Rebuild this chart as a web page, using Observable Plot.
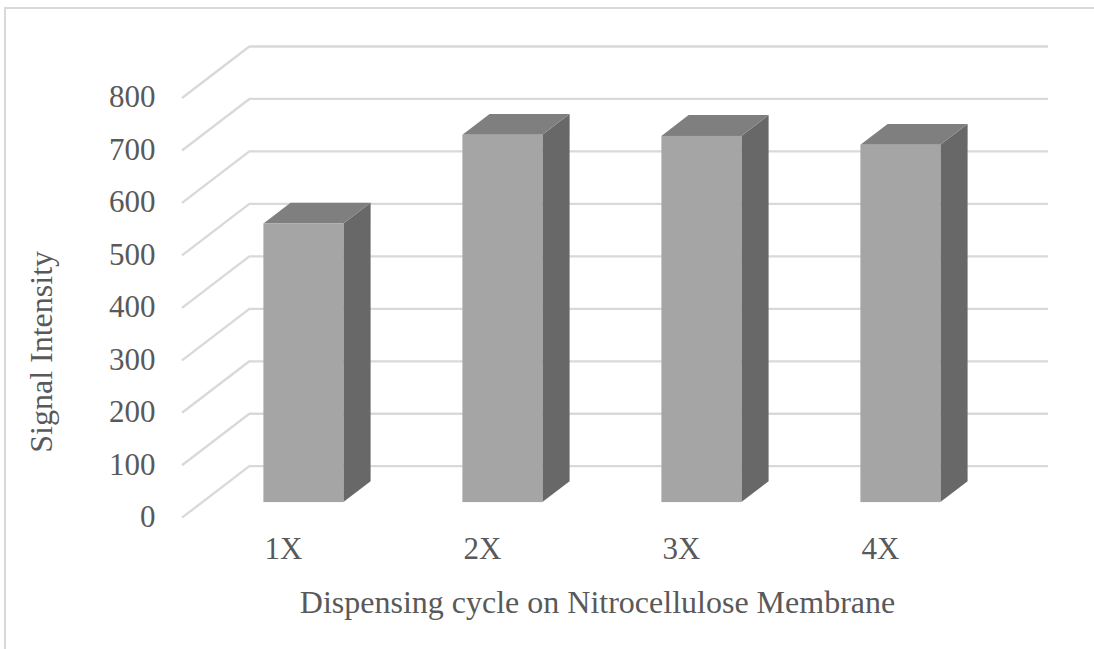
<!DOCTYPE html>
<html>
<head>
<meta charset="utf-8">
<script src="https://cdn.jsdelivr.net/npm/d3@7"></script>
<script src="https://cdn.jsdelivr.net/npm/@observablehq/plot@0.6"></script>
<style>
  html, body { margin: 0; padding: 0; background: #fff; }
  #wrap { position: relative; width: 1094px; height: 649px; overflow: hidden; }
  #border { position: absolute; left: 4px; top: 7px; width: 1200px; height: 800px;
            border: 2px solid #d9d9d9; box-sizing: border-box; pointer-events: none; }
</style>
</head>
<body>
<div id="wrap"><div id="border"></div></div>
<script>
// Signal intensity per dispensing cycle
const categories = ["1X", "2X", "3X", "4X"];
const signal = [531, 700, 698, 681];
const yTicks = [0, 100, 200, 300, 400, 500, 600, 700, 800];
const yTitle = "Signal Intensity";
const xTitle = "Dispensing cycle on Nitrocellulose Membrane";

const data = categories.map((c, i) => ({cycle: c, signal: signal[i]}));

// oblique projection of the floor depth (pixels), and where bars sit in it
const depth = [-68, 52];
const frontAt = 0.7, backAt = 0.3;
const F = [depth[0] * frontAt, depth[1] * frontAt];
const B = [depth[0] * backAt, depth[1] * backAt];

const grid = "#d9d9d9";
const textColor = "#595959";
const serif = "Liberation Serif";
const faceFront = "#a5a5a5", faceSide = "#686868", faceTop = "#7f7f7f";

function bandwidthOf(x) {
  return typeof x.bandwidth === "function" ? x.bandwidth() : x.bandwidth;
}

// side walls of the back grid: diagonals from the back wall to the front edge
function wallDiagonals(index, scales, values, dims) {
  const {y} = scales;
  const g = d3.create("svg:g");
  const x0 = dims.marginLeft;
  for (const t of yTicks) {
    g.append("line")
      .attr("x1", x0).attr("y1", y(t))
      .attr("x2", x0 + depth[0]).attr("y2", y(t) + depth[1])
      .attr("stroke", grid).attr("stroke-width", 2.3);
  }
  return g.node();
}

// right side and top faces of each 3-D bar
function barDepthFaces(index, scales) {
  const {x, y} = scales;
  const bw = bandwidthOf(x);
  const g = d3.create("svg:g");
  const pts = (arr) => arr.map(p => p.join(",")).join(" ");
  for (const d of data) {
    const xl = x(d.cycle), xr = xl + bw, y0 = y(0), yv = y(d.signal);
    g.append("polygon")
      .attr("points", pts([[xr + F[0], y0 + F[1]], [xr + F[0], yv + F[1]], [xr + B[0], yv + B[1]], [xr + B[0], y0 + B[1]]]))
      .attr("fill", faceSide);
    g.append("polygon")
      .attr("points", pts([[xl + F[0], yv + F[1]], [xr + F[0], yv + F[1]], [xr + B[0], yv + B[1]], [xl + B[0], yv + B[1]]]))
      .attr("fill", faceTop);
  }
  return g.node();
}

// rotated title of the value axis, centred on the front-plane axis
function valueAxisTitle(index, scales, values, dims) {
  const {y} = scales;
  const cx = dims.marginLeft - 208;
  const cy = (y(0) + y(800)) / 2 + 96;
  const g = d3.create("svg:g");
  g.append("text")
    .attr("transform", `translate(${cx},${cy}) rotate(-90)`)
    .attr("text-anchor", "middle")
    .attr("dy", "0.32em")
    .attr("font-family", serif)
    .attr("font-size", 32)
    .attr("fill", textColor)
    .text(yTitle);
  return g.node();
}

const chart = Plot.plot({
  width: 1094,
  height: 649,
  marginLeft: 250,
  marginRight: 46,
  marginTop: 46,
  marginBottom: 183.3,
  style: {background: "transparent", fontFamily: serif, fontSize: "31px", color: textColor},
  x: {domain: categories, axis: null, paddingInner: 0.6, paddingOuter: 0.3},
  y: {domain: [0, 800], axis: null},
  marks: [
    Plot.ruleY(yTicks, {stroke: grid, strokeWidth: 2.3}),
    wallDiagonals,
    barDepthFaces,
    Plot.barY(data, {x: "cycle", y: "signal", fill: faceFront, dx: F[0], dy: F[1]}),
    // value axis labels on the front plane
    Plot.text(yTicks, {y: d => d, text: d => String(d), frameAnchor: "left", textAnchor: "end",
      dx: -95, dy: depth[1] - 1, fill: textColor, fontSize: 31, fontFamily: serif}),
    // category labels at the front edge of the floor
    Plot.text(categories, {x: d => d, text: d => d, frameAnchor: "bottom",
      dx: depth[0], dy: 93, fill: textColor, fontSize: 31, fontFamily: serif}),
    valueAxisTitle,
    Plot.text([xTitle], {text: d => d, frameAnchor: "bottom",
      dx: -52, dy: 147, fill: textColor, fontSize: 32, fontFamily: serif})
  ]
});
chart.style.position = "absolute";
chart.style.left = "0";
chart.style.top = "0";
document.getElementById("wrap").insertBefore(chart, document.getElementById("border"));
</script>
</body>
</html>
